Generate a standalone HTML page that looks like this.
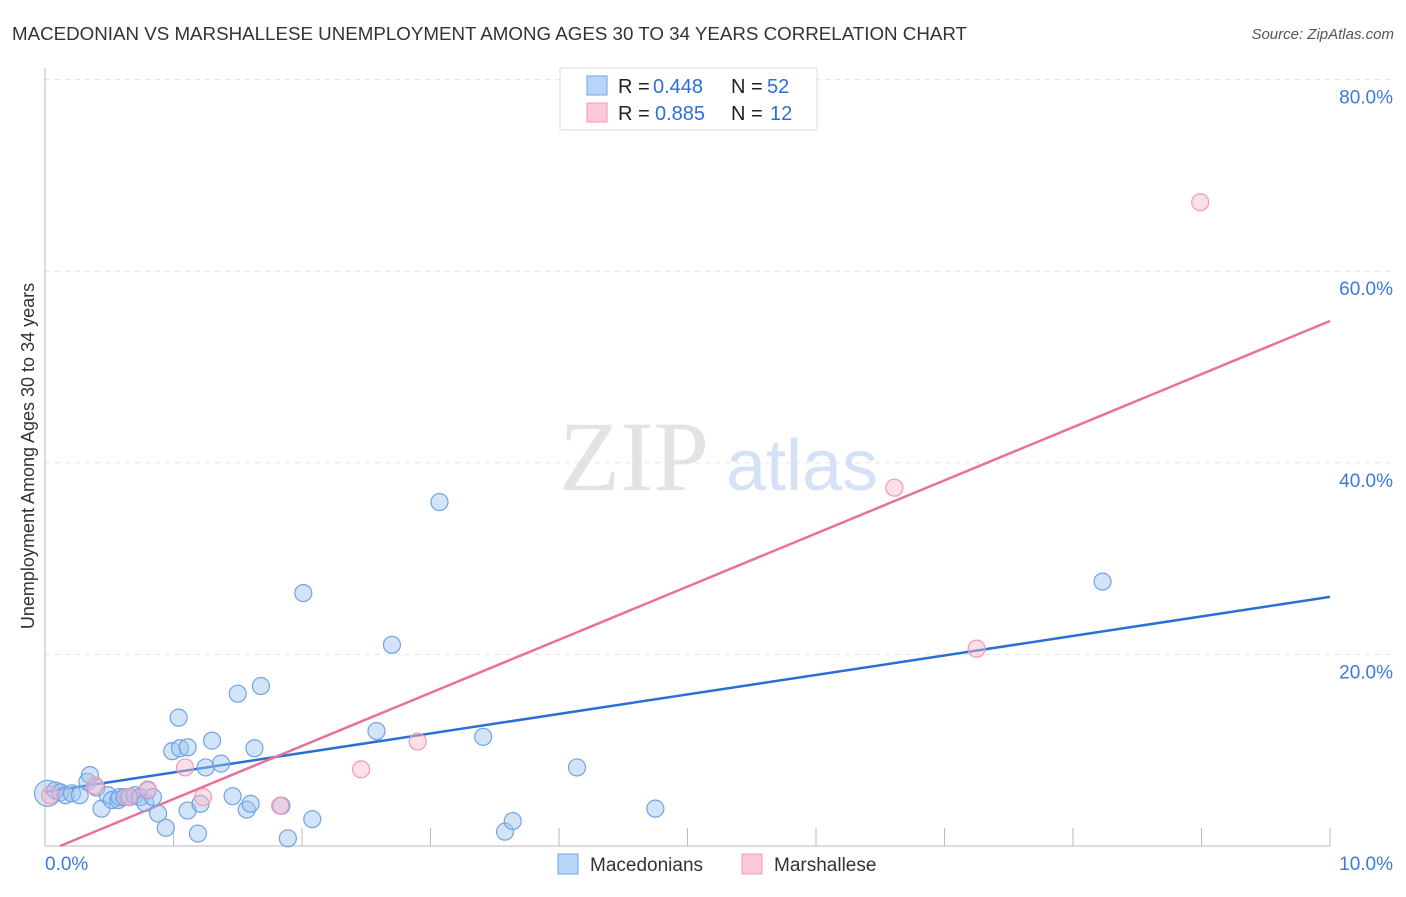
<!DOCTYPE html>
<html><head><meta charset="utf-8">
<style>
body{margin:0;background:#fff;font-family:"Liberation Sans",sans-serif;}
svg text{font-family:"Liberation Sans",sans-serif;}
</style></head>
<body>
<svg id="chart" width="1406" height="892" xmlns="http://www.w3.org/2000/svg">
<text x="12" y="40" font-size="18" fill="#333" textLength="955" lengthAdjust="spacingAndGlyphs">MACEDONIAN VS MARSHALLESE UNEMPLOYMENT AMONG AGES 30 TO 34 YEARS CORRELATION CHART</text>
<text x="1394" y="39" font-size="15" fill="#555" font-style="italic" text-anchor="end">Source: ZipAtlas.com</text>
<g>
<text x="634" y="490" font-size="100" fill="#e3e3e3" text-anchor="middle" style="font-family:'Liberation Serif',serif">ZIP</text>
<text x="802" y="490" font-size="72" fill="#d5e2f5" text-anchor="middle">atlas</text>
</g>
<g id="grid"></g>
<g id="axes"></g>
<text transform="translate(34,456) rotate(-90)" font-size="18" fill="#333" text-anchor="middle">Unemployment Among Ages 30 to 34 years</text>
<g id="lines"></g>
<g id="points"></g>
<g>
<rect x="560" y="68" width="257" height="62" fill="#fff" stroke="#ddd"/>
<rect x="587" y="76" width="20" height="19" fill="#b8d4f6" stroke="#6fa3e6"/>
<rect x="587" y="103" width="20" height="19" fill="#fcc8d7" stroke="#ef9ab3"/>
<text y="93" font-size="20" fill="#222"><tspan x="618">R =</tspan><tspan x="653" fill="#2c6fd6">0.448</tspan><tspan x="731">N =</tspan><tspan x="767" fill="#2c6fd6">52</tspan></text>
<text y="120" font-size="20" fill="#222"><tspan x="618">R =</tspan><tspan x="655" fill="#2c6fd6">0.885</tspan><tspan x="731">N =</tspan><tspan x="770" fill="#2c6fd6">12</tspan></text>
</g>
<g>
<rect x="558" y="854" width="20" height="20" fill="#b8d4f6" stroke="#6fa3e6"/>
<text x="590" y="871" font-size="19" fill="#333">Macedonians</text>
<rect x="742" y="854" width="20" height="20" fill="#fcc8d7" stroke="#ef9ab3"/>
<text x="774" y="871" font-size="19" fill="#333">Marshallese</text>
</g>
</svg>
<script>
const blueX=[0.02,0.08,0.12,0.16,0.21,0.27,0.33,0.35,0.40,0.44,0.49,0.52,0.57,0.58,0.62,0.66,0.70,0.74,0.78,0.80,0.84,0.88,0.94,0.99,1.04,1.05,1.11,1.11,1.19,1.21,1.25,1.30,1.37,1.46,1.50,1.57,1.60,1.63,1.68,1.84,1.89,2.01,2.08,2.58,2.70,3.07,3.41,3.58,3.64,4.14,4.75,8.23];
const blueY=[5.5,5.8,5.6,5.3,5.5,5.3,6.7,7.4,6.1,3.9,5.3,4.8,4.8,5.1,5.1,5.1,5.3,5.1,4.5,5.8,5.1,3.4,1.9,9.9,13.4,10.2,10.3,3.7,1.3,4.4,8.2,11.0,8.6,5.2,15.9,3.8,4.4,10.2,16.7,4.2,0.8,26.4,2.8,12.0,21.0,35.9,11.4,1.5,2.6,8.2,3.9,27.6];
const pinkX=[0.04,0.39,0.80,0.65,1.09,1.23,1.83,2.46,2.90,6.61,7.25,8.99];
const pinkY=[5.3,6.3,5.9,5.1,8.2,5.1,4.2,8.0,10.9,37.4,20.6,67.2];
const blueTrend=[5.64,26.0];
const pinkTrend=[-0.65,54.8];
const yTicks=[20,40,60,80];
const yTickLabels=["20.0%","40.0%","60.0%","80.0%"];
const xTicks=[1,2,3,4,5,6,7,8,9,10];
const NS="http://www.w3.org/2000/svg";
const X=v=>45+v*128.5, Y=v=>846-v*9.58;
function mk(tag,at,parent){const e=document.createElementNS(NS,tag);for(const k in at)e.setAttribute(k,at[k]);document.getElementById(parent).appendChild(e);return e;}
yTicks.forEach((t,i)=>{
 const l=mk('line',{x1:45,x2:1392,y1:Y(t),y2:Y(t),stroke:'#e2e2e2','stroke-dasharray':'5,5'},'grid');
 
 
 const tx=mk('text',{x:1393,y:Y(t)+24,'font-size':19,fill:'#3b7bd8','text-anchor':'end'},'axes');
 tx.textContent=yTickLabels[i];
 
 
});
mk('line',{x1:45,x2:45,y1:68,y2:846,stroke:'#bbb'},'axes');
mk('line',{x1:45,x2:1330,y1:846,y2:846,stroke:'#bbb'},'axes');
xTicks.forEach(t=>{const l=mk('line',{x1:X(t),x2:X(t),y1:828,y2:846,stroke:'#bbb'},'axes');
 
 });
let a=mk('text',{x:45,y:870,'font-size':19,fill:'#3b7bd8'},'axes');a.textContent='0.0%';

a=mk('text',{x:1393,y:870,'font-size':19,fill:'#3b7bd8','text-anchor':'end'},'axes');a.textContent='10.0%';

let bl=mk('line',{x1:X(0),y1:Y(blueTrend[0]),x2:X(10),y2:Y(blueTrend[1]),stroke:'#2a6fd4','stroke-width':2.5},'lines');


const pSlope=(pinkTrend[1]-pinkTrend[0])/10;
const px0=Math.max(0,-pinkTrend[0]/pSlope);
let pl=mk('line',{x1:X(px0),y1:Y(pinkTrend[0]+pSlope*px0),x2:X(10),y2:Y(pinkTrend[1]),stroke:'#e8709a','stroke-width':2.5},'lines');


blueX.forEach((v,i)=>{const c=mk('circle',{cx:X(v),cy:Y(blueY[i]),r:i==0?13:8.5,fill:'rgba(160,195,240,0.45)',stroke:'#6fa3e6','stroke-width':1.2},'points');
 
 });
pinkX.forEach((v,i)=>{const c=mk('circle',{cx:X(v),cy:Y(pinkY[i]),r:8.5,fill:'rgba(250,185,205,0.45)',stroke:'#ef9ab3','stroke-width':1.2},'points');
 
 });
</script>
</body></html>
